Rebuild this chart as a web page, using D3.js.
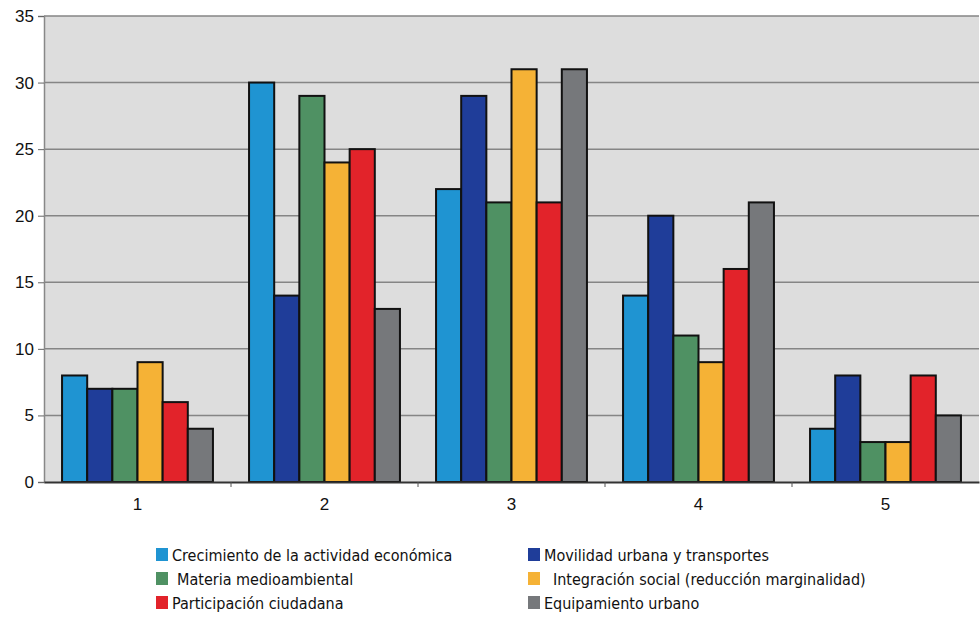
<!DOCTYPE html>
<html lang="es">
<head>
<meta charset="utf-8">
<title>Barras por categoría</title>
<script src="https://cdn.jsdelivr.net/npm/d3@7/dist/d3.min.js"></script>
<style>
body { margin: 0; background: #fff; }
.legend text { font-size: 16px; fill: #111; font-family: "DejaVu Sans Condensed", "Liberation Sans Narrow", Arial, sans-serif; }
</style>
</head>
<body>
<script>
// categorías del eje x
var categories = ["1", "2", "3", "4", "5"];

// series
var seriesNames = [
  "Crecimiento de la actividad económica",
  "Movilidad urbana y transportes",
  "Materia medioambiental",
  "Integración social (reducción marginalidad)",
  "Participación ciudadana",
  "Equipamiento urbano"
];
var crecimiento   = [8, 30, 22, 14, 4];
var movilidad     = [7, 14, 29, 20, 8];
var medioambiente = [7, 29, 21, 11, 3];
var integracion   = [9, 24, 31, 9, 3];
var participacion = [6, 25, 21, 16, 8];
var equipamiento  = [4, 13, 31, 21, 5];
var yTicks = [0, 5, 10, 15, 20, 25, 30, 35];

var colors = ["#1f94d2", "#1f3d99", "#4f9163", "#f5b236", "#e2232a", "#76787b"];
var values = [crecimiento, movilidad, medioambiente, integracion, participacion, equipamiento];

var w = 980, h = 617;
var pLeft = 44, pRight = 979, pTop = 16, pBottom = 482;

var svg = d3.select("body").append("svg")
    .attr("width", w)
    .attr("height", h);

var x0 = d3.scaleBand()
    .domain(categories)
    .range([pLeft, pRight])
    .paddingInner(0.193)
    .paddingOuter(0.0965);

var x1 = d3.scaleBand()
    .domain(d3.range(seriesNames.length))
    .range([0, x0.bandwidth()]);

var y = d3.scaleLinear()
    .domain([0, 35])
    .range([pBottom, pTop]);

// fondo del área de trazado
svg.append("rect")
    .attr("x", pLeft).attr("y", pTop)
    .attr("width", pRight - pLeft).attr("height", pBottom - pTop)
    .attr("fill", "#dddddd");

// líneas de cuadrícula
svg.append("g")
    .selectAll("line")
    .data(yTicks.filter(function(d){ return d > 0; }))
    .enter().append("line")
    .attr("x1", pLeft).attr("x2", pRight)
    .attr("y1", function(d){ return y(d); })
    .attr("y2", function(d){ return y(d); })
    .attr("stroke", "#858585")
    .attr("stroke-width", 1.5);

// eje y
var yAxis = svg.append("g")
    .attr("transform", "translate(" + pLeft + ",0)")
    .call(d3.axisLeft(y).tickValues(yTicks).tickSize(6).tickPadding(4));
yAxis.select(".domain").attr("stroke", "#888").attr("stroke-width", 1.5);
yAxis.selectAll(".tick line").attr("stroke", "#666");
yAxis.selectAll("text")
    .attr("font-family", "Arial, 'Liberation Sans', sans-serif")
    .attr("font-size", 17)
    .attr("fill", "#111");

// barras
var groups = svg.append("g")
    .selectAll("g")
    .data(categories)
    .enter().append("g")
    .attr("transform", function(d){ return "translate(" + x0(d) + ",0)"; });

groups.selectAll("rect")
    .data(function(d, i){ return values.map(function(s, k){ return {k: k, v: s[i]}; }); })
    .enter().append("rect")
    .attr("x", function(d){ return x1(d.k); })
    .attr("width", x1.bandwidth())
    .attr("y", function(d){ return y(d.v); })
    .attr("height", function(d){ return y(0) - y(d.v); })
    .attr("fill", function(d){ return colors[d.k]; })
    .attr("stroke", "#111")
    .attr("stroke-width", 2);

// eje x
var xAxis = svg.append("g")
    .attr("transform", "translate(0," + pBottom + ")")
    .call(d3.axisBottom(x0).tickSize(0).tickPadding(16));
xAxis.select(".domain").attr("stroke", "#333").attr("stroke-width", 2);
xAxis.selectAll("text")
    .attr("font-family", "Arial, 'Liberation Sans', sans-serif")
    .attr("font-size", 17)
    .attr("fill", "#111");

// marcas entre categorías
xAxis.selectAll(".sep")
    .data(categories.slice(1))
    .enter().append("line")
    .attr("class", "sep")
    .attr("x1", function(d){ return x0(d) - x0.step() * x0.paddingInner() / 2; })
    .attr("x2", function(d){ return x0(d) - x0.step() * x0.paddingInner() / 2; })
    .attr("y1", 0).attr("y2", 5)
    .attr("stroke", "#555");

// leyenda
var legend = svg.append("g").attr("class", "legend");
var legX = [156, 528], legY = [555, 579, 603];
var textShift = [0, 0, 5, 9, 0, 0];

var item = legend.selectAll("g")
    .data(seriesNames)
    .enter().append("g")
    .attr("transform", function(d, i){
        return "translate(" + legX[i % 2] + "," + legY[Math.floor(i / 2)] + ")";
    });

item.append("rect")
    .attr("x", 0).attr("y", -7)
    .attr("width", 12).attr("height", 13)
    .attr("fill", function(d, i){ return colors[i]; });

item.append("text")
    .attr("x", function(d, i){ return 16 + textShift[i]; })
    .attr("y", 6)
    .text(function(d){ return d; });
</script>
</body>
</html>
